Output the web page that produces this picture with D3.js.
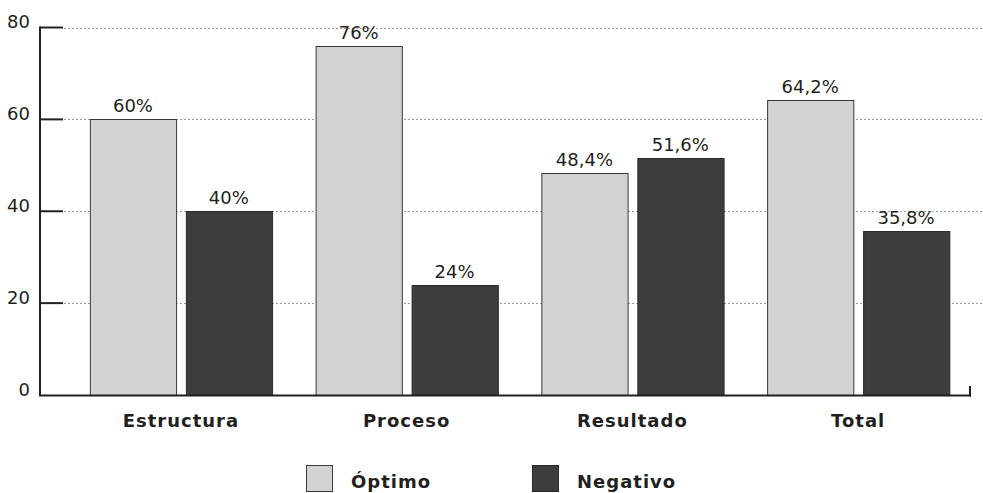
<!DOCTYPE html>
<html>
<head>
<meta charset="utf-8">
<script src="https://cdn.jsdelivr.net/npm/d3@7"></script>
<style>
  html, body { margin: 0; padding: 0; background: #fff; }
  svg { display: block; }
  text { font-family: "DejaVu Sans", sans-serif; fill: #231f20; }
</style>
</head>
<body>
<svg id="chart" width="983" height="493"></svg>
<script>
const categories = ["Estructura", "Proceso", "Resultado", "Total"];
const seriesNames = ["Óptimo", "Negativo"];
const optimoValues = [60, 76, 48.4, 64.2];
const negativoValues = [40, 24, 51.6, 35.8];
const optimoLabels = ["60%", "76%", "48,4%", "64,2%"];
const negativoLabels = ["40%", "24%", "51,6%", "35,8%"];
const yTicks = [0, 20, 40, 60, 80];

const colors = { "Óptimo": "#d1d2d4", "Negativo": "#3d3d3d" };
const strokes = { "Óptimo": "#3a3a3a", "Negativo": "#2a2a2a" };

const rows = categories.map((c, i) => ({
  category: c,
  values: [
    { series: "Óptimo", value: optimoValues[i], label: optimoLabels[i] },
    { series: "Negativo", value: negativoValues[i], label: negativoLabels[i] }
  ]
}));

const svg = d3.select("#chart");
const axisX = 40, axisRight = 971;

const y = d3.scaleLinear().domain([0, 80]).range([395, 27.5]);
const x0 = d3.scaleBand().domain(categories).range([68, 971]).paddingInner(0.1936).paddingOuter(0.0968);
const x1 = d3.scaleBand().domain(seriesNames).range([0, x0.bandwidth()]).paddingInner(0.1);

// grid lines (dotted)
svg.append("g").selectAll("line").data(yTicks.filter(t => t > 0)).join("line")
  .attr("x1", 64).attr("x2", 983)
  .attr("y1", d => Math.round(y(d)) + 0.5).attr("y2", d => Math.round(y(d)) + 0.5)
  .attr("stroke", "#9a9a9a").attr("stroke-width", 1).attr("stroke-dasharray", "2,2");

// y axis via d3 axis
const yAxis = d3.axisLeft(y).tickValues(yTicks).tickSize(0).tickPadding(10).tickFormat(d3.format("d"));
const gy = svg.append("g").attr("transform", `translate(${axisX},0)`).call(yAxis);
gy.select(".domain").remove();
gy.selectAll("text").attr("font-size", 18).attr("font-family", "DejaVu Sans")
  .attr("fill", "#231f20").attr("dy", "0").attr("y", 0).attr("dominant-baseline", "alphabetic");
// left axis line
svg.append("line").attr("x1", axisX).attr("x2", axisX).attr("y1", y(80) - 1).attr("y2", y(0) + 1)
  .attr("stroke", "#231f20").attr("stroke-width", 2);
// tick marks
svg.append("g").selectAll("line").data(yTicks.filter(t => t > 0)).join("line")
  .attr("x1", axisX).attr("x2", 63)
  .attr("y1", d => y(d)).attr("y2", d => y(d))
  .attr("stroke", "#231f20").attr("stroke-width", 2);

// bars
const groups = svg.append("g").selectAll("g").data(rows).join("g")
  .attr("transform", d => `translate(${x0(d.category)},0)`);
groups.selectAll("rect").data(d => d.values).join("rect")
  .attr("x", d => Math.round(x1(d.series)) + 0.5)
  .attr("y", d => Math.round(y(d.value)) + 0.5)
  .attr("width", x1.bandwidth())
  .attr("height", d => y(0) - Math.round(y(d.value)))
  .attr("fill", d => colors[d.series])
  .attr("stroke", d => strokes[d.series]).attr("stroke-width", 1);
groups.selectAll("text").data(d => d.values).join("text")
  .attr("x", d => x1(d.series) + x1.bandwidth() / 2)
  .attr("y", d => y(d.value) - 7)
  .attr("text-anchor", "middle").attr("font-size", 18)
  .text(d => d.label);

// x axis line
svg.append("line").attr("x1", axisX - 1).attr("x2", axisRight).attr("y1", y(0) + 0.5).attr("y2", y(0) + 0.5)
  .attr("stroke", "#231f20").attr("stroke-width", 2);
svg.append("line").attr("x1", axisRight - 1).attr("x2", axisRight - 1).attr("y1", y(0) - 9).attr("y2", y(0) + 1.5)
  .attr("stroke", "#231f20").attr("stroke-width", 2);

// category labels via axis
const xAxis = d3.axisBottom(x0).tickSize(0).tickPadding(0);
const gx = svg.append("g").attr("transform", `translate(0,427)`).call(xAxis);
gx.select(".domain").remove();
gx.selectAll("text").attr("y", 0).attr("dy", "0").attr("font-size", 18).attr("font-weight", "bold")
  .attr("font-family", "DejaVu Sans").attr("fill", "#231f20").attr("letter-spacing", "1px");

// legend
const legendX = [306, 532];
const leg = svg.append("g").selectAll("g").data(seriesNames).join("g")
  .attr("transform", (d, i) => `translate(${legendX[i]},465)`);
leg.append("rect").attr("x", 0.5).attr("y", 0.5).attr("width", 26).attr("height", 26)
  .attr("fill", d => colors[d]).attr("stroke", d => strokes[d]).attr("stroke-width", 1);
leg.append("text").attr("x", 45).attr("y", 23).attr("font-size", 18).attr("font-weight", "bold")
  .attr("letter-spacing", "1px").text(d => d);
</script>
</body>
</html>
